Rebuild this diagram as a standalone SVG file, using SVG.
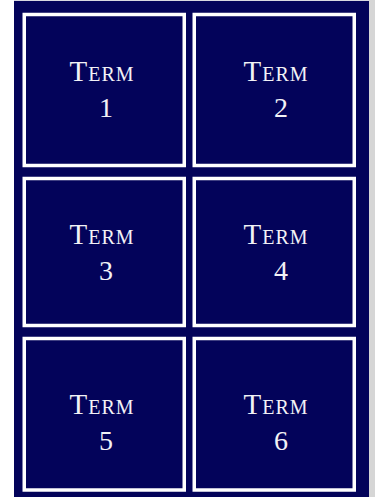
<svg xmlns="http://www.w3.org/2000/svg" width="375" height="497" viewBox="0 0 375 497">
  <style>
    .box { fill: #03035a; stroke: #ffffff; stroke-width: 3.5; }
    .term { font-family: "Liberation Serif", "Times New Roman", serif; font-size: 29px; font-variant: small-caps; letter-spacing: 1px; fill: #f2f2f6; text-anchor: middle; }
    .num { font-family: "Liberation Serif", "Times New Roman", serif; font-size: 28px; fill: #f2f2f6; text-anchor: middle; }
  </style>
  <rect x="0" y="0" width="375" height="497" fill="#ffffff"/>
  <rect x="14" y="0" width="361" height="1" fill="#d8d8e0"/>
  <rect x="14" y="1" width="355" height="496" fill="#03035a"/>
  <rect x="369" y="0" width="6" height="497" fill="#d6d6d6"/>
  <g id="term1">
    <rect class="box" x="24.25" y="14.5" width="160" height="151"/>
    <text class="term" x="102" y="81">Term</text>
    <text class="num" x="106" y="117">1</text>
  </g>
  <g id="term2">
    <rect class="box" x="194.25" y="14.5" width="160" height="151"/>
    <text class="term" x="276" y="81">Term</text>
    <text class="num" x="281" y="117">2</text>
  </g>
  <g id="term3">
    <rect class="box" x="24.25" y="178.5" width="160" height="147"/>
    <text class="term" x="102" y="244">Term</text>
    <text class="num" x="106" y="280">3</text>
  </g>
  <g id="term4">
    <rect class="box" x="194.25" y="178.5" width="160" height="147"/>
    <text class="term" x="276" y="244">Term</text>
    <text class="num" x="281" y="280">4</text>
  </g>
  <g id="term5">
    <rect class="box" x="24.25" y="338.5" width="160" height="151.5"/>
    <text class="term" x="102" y="414">Term</text>
    <text class="num" x="106" y="450">5</text>
  </g>
  <g id="term6">
    <rect class="box" x="194.25" y="338.5" width="160" height="151.5"/>
    <text class="term" x="276" y="414">Term</text>
    <text class="num" x="281" y="450">6</text>
  </g>
  <g id="connectors"/>
</svg>
